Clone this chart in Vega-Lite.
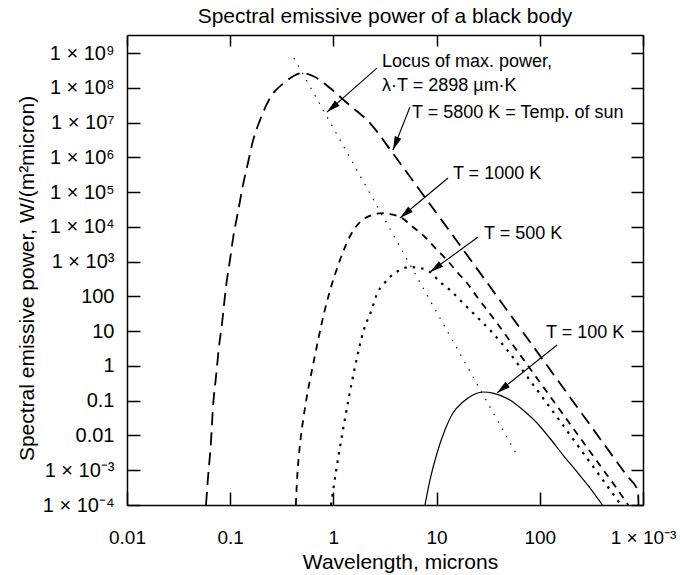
{
  "$schema": "https://vega.github.io/schema/vega-lite/v6.json",
  "width": 516,
  "height": 470,
  "autosize": {"type": "none"},
  "padding": {"left": 127, "top": 35, "right": 37, "bottom": 70},
  "background": "white",
  "config": {
    "view": {"stroke": null},
    "font": "Liberation Sans",
    "axis": {"labelFont": "Liberation Sans", "titleFont": "Liberation Sans", "labelColor": "black", "titleColor": "black", "tickColor": "black", "domainColor": "black", "domainWidth": 1.5, "tickWidth": 1.5, "grid": false, "titleFontWeight": "normal", "labelFlush": false, "labelOverlap": false}
  },
  "title": {"text": "Spectral emissive power of a black body", "fontSize": 21, "fontWeight": "normal", "font": "Liberation Sans", "color": "black", "anchor": "middle", "baseline": "alphabetic", "offset": -10},
  "resolve": {"axis": {"x": "independent", "y": "independent"}},
  "datasets": {
    "c5800": [
      {"lam": 0.0583, "E": 0.0001}, {"lam": 0.0610, "E": 0.00064}, {"lam": 0.0646, "E": 0.00466}, {"lam": 0.0686, "E": 0.0859},
      {"lam": 0.0728, "E": 0.48}, {"lam": 0.0778, "E": 3.5}, {"lam": 0.0834, "E": 17.1}, {"lam": 0.091, "E": 186},
      {"lam": 0.0995, "E": 1110}, {"lam": 0.107, "E": 5100}, {"lam": 0.119, "E": 26700}, {"lam": 0.133, "E": 160000},
      {"lam": 0.1486, "E": 685000}, {"lam": 0.167, "E": 3140000}, {"lam": 0.1945, "E": 11800000}, {"lam": 0.243, "E": 50700000},
      {"lam": 0.34, "E": 146000000}, {"lam": 0.507, "E": 265000000}, {"lam": 0.664, "E": 204000000}, {"lam": 0.927, "E": 98400000},
      {"lam": 1.355, "E": 36500000}, {"lam": 2.26, "E": 9700000}, {"lam": 3.78, "E": 1290000}, {"lam": 6.9, "E": 111000},
      {"lam": 13.5, "E": 7300}, {"lam": 38.5, "E": 100}, {"lam": 60, "E": 16.2}, {"lam": 100, "E": 2.0},
      {"lam": 200, "E": 0.1164}, {"lam": 400, "E": 0.00679}, {"lam": 700, "E": 0.000684}, {"lam": 893, "E": 0.000252},
      {"lam": 905, "E": 0.0001}
    ],
    "c1000": [
      {"lam": 0.4325, "E": 0.0001}, {"lam": 0.4416, "E": 0.000376}, {"lam": 0.4519, "E": 0.00116}, {"lam": 0.4656, "E": 0.00313},
      {"lam": 0.4831, "E": 0.00904}, {"lam": 0.5058, "E": 0.0244}, {"lam": 0.5358, "E": 0.0752}, {"lam": 0.5675, "E": 0.203},
      {"lam": 0.6067, "E": 0.548}, {"lam": 0.6486, "E": 1.48}, {"lam": 0.7015, "E": 4.56}, {"lam": 0.7568, "E": 13.2},
      {"lam": 0.8166, "E": 35.6}, {"lam": 0.9016, "E": 110}, {"lam": 0.9954, "E": 296}, {"lam": 1.096, "E": 700},
      {"lam": 1.262, "E": 2160}, {"lam": 1.486, "E": 6220}, {"lam": 1.811, "E": 13800}, {"lam": 2.371, "E": 21900},
      {"lam": 3.027, "E": 25000}, {"lam": 3.532, "E": 23400}, {"lam": 4.62, "E": 17900}, {"lam": 5.9, "E": 9890},
      {"lam": 7.72, "E": 5100}, {"lam": 10.1, "E": 2160}, {"lam": 12.6, "E": 1110}, {"lam": 15.8, "E": 502},
      {"lam": 19.7, "E": 243}, {"lam": 24.7, "E": 96}, {"lam": 30.8, "E": 40.6}, {"lam": 38.5, "E": 17.1},
      {"lam": 50, "E": 5.86}, {"lam": 70, "E": 1.48}, {"lam": 100, "E": 0.342}, {"lam": 150, "E": 0.0649},
      {"lam": 250, "E": 0.00797}, {"lam": 400, "E": 0.00116}, {"lam": 550, "E": 0.000315}, {"lam": 720, "E": 0.0001}
    ],
    "c500": [
      {"lam": 0.9484, "E": 0.0001}, {"lam": 1.064, "E": 0.001}, {"lam": 1.211, "E": 0.01}, {"lam": 1.393, "E": 0.1},
      {"lam": 1.626, "E": 1}, {"lam": 1.954, "E": 10}, {"lam": 2.344, "E": 40.6}, {"lam": 2.692, "E": 134},
      {"lam": 3.02, "E": 212}, {"lam": 3.532, "E": 361}, {"lam": 4.227, "E": 537}, {"lam": 5.521, "E": 700},
      {"lam": 6.902, "E": 655}, {"lam": 8.63, "E": 502}, {"lam": 10.79, "E": 259}, {"lam": 13.49, "E": 152},
      {"lam": 16.87, "E": 78.7}, {"lam": 21.09, "E": 40.6}, {"lam": 26.36, "E": 20.9}, {"lam": 32.89, "E": 10.8},
      {"lam": 50, "E": 2.51}, {"lam": 70, "E": 0.664}, {"lam": 100, "E": 0.159}, {"lam": 150, "E": 0.0309},
      {"lam": 250, "E": 0.00387}, {"lam": 400, "E": 0.000569}, {"lam": 550, "E": 0.000155}, {"lam": 612, "E": 0.0001}
    ],
    "c100": [
      {"lam": 7.72, "E": 0.0001}, {"lam": 8.63, "E": 0.000524}, {"lam": 10.1, "E": 0.00313}, {"lam": 12.05, "E": 0.01435},
      {"lam": 14.4, "E": 0.0443}, {"lam": 18.0, "E": 0.0916}, {"lam": 22.5, "E": 0.146}, {"lam": 28.2, "E": 0.178},
      {"lam": 35.2, "E": 0.166}, {"lam": 51.4, "E": 0.105}, {"lam": 68.7, "E": 0.054}, {"lam": 94, "E": 0.0228},
      {"lam": 125.6, "E": 0.00818}, {"lam": 168, "E": 0.00274}, {"lam": 229.6, "E": 0.00089}, {"lam": 307, "E": 0.000308},
      {"lam": 405, "E": 0.0001}
    ],
    "locus": [
      {"lam": 0.415, "E": 718000000}, {"lam": 61.5, "E": 0.0024}
    ],
    "arrows": [
      {"lam": 2.64, "E": 370000000, "lam2": 0.867, "E2": 20000000, "ang": 228.6},
      {"lam": 5.52, "E": 28000000, "lam2": 3.78, "E2": 1620000, "ang": 201.6},
      {"lam": 12.9, "E": 254000, "lam2": 4.42, "E2": 18000, "ang": 230.2},
      {"lam": 25.2, "E": 5100, "lam2": 8.63, "E2": 502, "ang": 233.9},
      {"lam": 147, "E": 4.0, "lam2": 38.5, "E2": 0.166, "ang": 231.3}
    ],
    "notes": [
      {"lam": 2.96, "E": 550000000, "label": "Locus of max. power,"},
      {"lam": 2.96, "E": 112000000, "label": "λ·T = 2898 µm·K"},
      {"lam": 5.78, "E": 18800000, "label": "T = 5800 K = Temp. of sun"},
      {"lam": 14.4, "E": 330000, "label": "T = 1000 K"},
      {"lam": 28.8, "E": 6200, "label": "T = 500 K"},
      {"lam": 115, "E": 8.85, "label": "T = 100 K"}
    ]
  },
  "layer": [
    {
      "data": {"name": "c5800"},
      "mark": {"type": "line", "color": "black", "strokeWidth": 1.8, "strokeDash": [13, 7], "interpolate": "monotone", "clip": true},
      "encoding": {
        "x": {"field": "lam", "type": "quantitative", "scale": {"type": "log", "domain": [0.01, 1000], "nice": false},
          "axis": {"orient": "bottom", "values": [0.01, 0.1, 1, 10, 100, 1000],
            "labelExpr": "datum.value >= 999 ? '1 × 10⁻³' : datum.value >= 1 ? format(datum.value, 'd') : datum.value > 0.05 ? '0.1' : '0.01'",
            "tickSize": -13, "labelPadding": 36, "labelFontSize": 19,
            "title": "Wavelength, microns", "titleFontSize": 21, "titleX": 273, "titleY": 46, "titleBaseline": "top", "titleAlign": "center"}},
        "y": {"field": "E", "type": "quantitative", "scale": {"type": "log", "domain": [0.0001, 3300000000], "nice": false},
          "axis": {"orient": "left", "values": [0.0001, 0.001, 0.01, 0.1, 1, 10, 100, 1000, 10000, 100000, 1000000, 10000000, 100000000, 1000000000],
            "labelExpr": "['1 × 10⁻⁴','1 × 10⁻³','0.01','0.1','1','10','100','1 × 10³','1 × 10⁴','1 × 10⁵','1 × 10⁶','1 × 10⁷','1 × 10⁸','1 × 10⁹'][round(log(datum.value)/LN10)+4]",
            "tickSize": -13, "labelPadding": 26, "labelFontSize": 20,
            "title": "Spectral emissive power, W/(m²micron)", "titleFontSize": 21, "titleAngle": -90, "titleX": -100, "titleY": 243, "titleBaseline": "middle", "titleAlign": "center"}}
      }
    },
    {
      "data": {"name": "c1000"},
      "mark": {"type": "line", "color": "black", "strokeWidth": 1.8, "strokeDash": [7, 6], "interpolate": "monotone", "clip": true},
      "encoding": {
        "x": {"field": "lam", "type": "quantitative", "scale": {"type": "log", "domain": [0.01, 1000], "nice": false},
          "axis": {"orient": "top", "values": [0.01, 0.1, 1, 10, 100, 1000], "labels": false, "tickSize": -11, "title": null}},
        "y": {"field": "E", "type": "quantitative", "scale": {"type": "log", "domain": [0.0001, 3300000000], "nice": false},
          "axis": {"orient": "right", "values": [0.0001, 0.001, 0.01, 0.1, 1, 10, 100, 1000, 10000, 100000, 1000000, 10000000, 100000000, 1000000000], "labels": false, "tickSize": -12, "title": null}}
      }
    },
    {
      "data": {"name": "c500"},
      "mark": {"type": "line", "color": "black", "strokeWidth": 2.2, "strokeDash": [2.5, 6], "interpolate": "monotone", "clip": true},
      "encoding": {
        "x": {"field": "lam", "type": "quantitative", "scale": {"type": "log", "domain": [0.01, 1000], "nice": false}, "axis": null},
        "y": {"field": "E", "type": "quantitative", "scale": {"type": "log", "domain": [0.0001, 3300000000], "nice": false}, "axis": null}
      }
    },
    {
      "data": {"name": "c100"},
      "mark": {"type": "line", "color": "black", "strokeWidth": 1.2, "interpolate": "monotone", "clip": true},
      "encoding": {
        "x": {"field": "lam", "type": "quantitative", "scale": {"type": "log", "domain": [0.01, 1000], "nice": false}, "axis": null},
        "y": {"field": "E", "type": "quantitative", "scale": {"type": "log", "domain": [0.0001, 3300000000], "nice": false}, "axis": null}
      }
    },
    {
      "data": {"name": "locus"},
      "mark": {"type": "line", "color": "black", "strokeWidth": 1.1, "strokeDash": [1.5, 7], "clip": true},
      "encoding": {
        "x": {"field": "lam", "type": "quantitative", "scale": {"type": "log", "domain": [0.01, 1000], "nice": false}, "axis": null},
        "y": {"field": "E", "type": "quantitative", "scale": {"type": "log", "domain": [0.0001, 3300000000], "nice": false}, "axis": null}
      }
    },
    {
      "data": {"name": "arrows"},
      "mark": {"type": "rule", "color": "black", "strokeWidth": 1.1},
      "encoding": {
        "x": {"field": "lam", "type": "quantitative", "scale": {"type": "log", "domain": [0.01, 1000], "nice": false}, "axis": null},
        "y": {"field": "E", "type": "quantitative", "scale": {"type": "log", "domain": [0.0001, 3300000000], "nice": false}, "axis": null},
        "x2": {"field": "lam2"},
        "y2": {"field": "E2"}
      }
    },
    {
      "data": {"name": "arrows"},
      "mark": {"type": "point", "shape": "M0,0L-0.36,1.4L0.36,1.4Z", "filled": true, "color": "black", "size": 380, "opacity": 1},
      "encoding": {
        "x": {"field": "lam2", "type": "quantitative", "scale": {"type": "log", "domain": [0.01, 1000], "nice": false}, "axis": null},
        "y": {"field": "E2", "type": "quantitative", "scale": {"type": "log", "domain": [0.0001, 3300000000], "nice": false}, "axis": null},
        "angle": {"field": "ang", "type": "quantitative", "scale": null}
      }
    },
    {
      "data": {"name": "notes"},
      "mark": {"type": "text", "align": "left", "baseline": "middle", "fontSize": 18, "font": "Liberation Sans", "color": "black"},
      "encoding": {
        "x": {"field": "lam", "type": "quantitative", "scale": {"type": "log", "domain": [0.01, 1000], "nice": false}, "axis": null},
        "y": {"field": "E", "type": "quantitative", "scale": {"type": "log", "domain": [0.0001, 3300000000], "nice": false}, "axis": null},
        "text": {"field": "label"}
      }
    }
  ]
}
